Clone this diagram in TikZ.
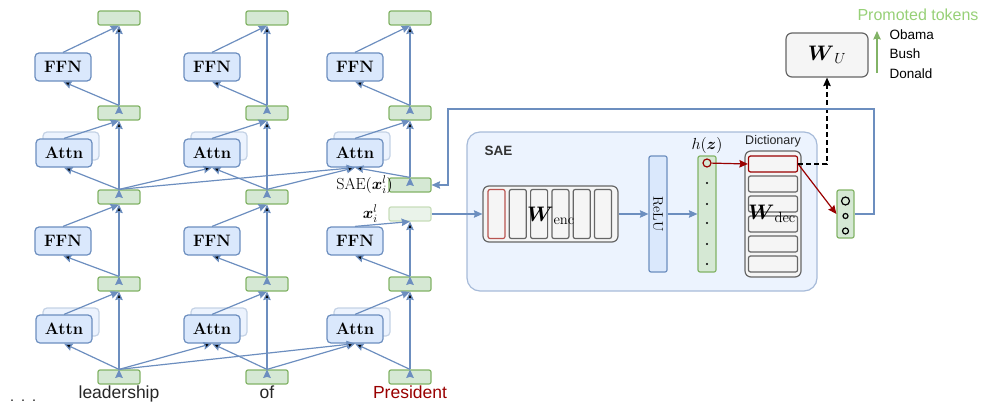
\documentclass[tikz,border=0pt]{standalone}
\usepackage{fix-cm}
\usepackage{amsmath}
\usepackage{fontspec}
\usepackage{xcolor}
\usepackage{tikz}
\usetikzlibrary{arrows.meta, positioning, calc}
\newfontfamily\helv{Liberation Sans}

\definecolor{blufill}{HTML}{DAE8FC}
\definecolor{bluline}{HTML}{6C8EBF}
\definecolor{grnfill}{HTML}{D5E8D4}
\definecolor{grnline}{HTML}{82B366}
\definecolor{gryfill}{HTML}{F5F5F5}
\definecolor{gryline}{HTML}{666666}
\definecolor{redline}{HTML}{B85450}
\definecolor{darkred}{HTML}{990000}
\definecolor{promo}{HTML}{97D077}

\begin{document}
\begin{tikzpicture}[x=1pt, y=-1pt, line width=1.2pt, >={Stealth[length=8.5pt, width=7.5pt, inset=1pt]}]
    \tikzstyle{vec} = [rectangle, draw=grnline, fill=grnfill, minimum width=42pt, minimum height=14pt, inner sep=0pt, rounded corners=2pt]
    \tikzstyle{block} = [rectangle, draw=bluline, fill=blufill, minimum width=56pt, minimum height=28pt, inner sep=0pt, rounded corners=4pt, font=\fontsize{16.5}{19}\selectfont\bfseries]
    \tikzstyle{ghost} = [block, draw=bluline!40, fill=blufill!50]
    \tikzstyle{flow} = [->, draw=bluline]
    \tikzstyle{cell} = [rectangle, draw=gryline, fill=gryfill, inner sep=0pt, rounded corners=2pt]
    \tikzstyle{lbl} = [inner sep=0pt]
    \tikzstyle{sanslbl} = [inner sep=0pt, font=\helv\fontsize{13.5}{16}\selectfont]

    \useasboundingbox (0,0) rectangle (981,404);

    % column 1
    \node[vec] (tok1) at (119,377) {};
    \node[ghost] (attnA1s) at (71,322) {};
    \node[block] (attnA1) at (64,329) {Attn};
    \node[vec] (midA1) at (119,284) {};
    \node[block] (ffnA1) at (63,241) {FFN};
    \node[vec] (res1) at (119,197) {};
    \node[ghost] (attnB1s) at (71,146) {};
    \node[block] (attnB1) at (64,153) {Attn};
    \node[vec] (midB1) at (119,113) {};
    \node[block] (ffnB1) at (63,67) {FFN};
    \node[vec] (top1) at (119,18) {};

    % column 2
    \node[vec] (tok2) at (267,377) {};
    \node[ghost] (attnA2s) at (219,322) {};
    \node[block] (attnA2) at (212,329) {Attn};
    \node[vec] (midA2) at (267,284) {};
    \node[block] (ffnA2) at (212,241) {FFN};
    \node[vec] (res2) at (267,197) {};
    \node[ghost] (attnB2s) at (219,146) {};
    \node[block] (attnB2) at (212,153) {Attn};
    \node[vec] (midB2) at (267,113) {};
    \node[block] (ffnB2) at (212,67) {FFN};
    \node[vec] (top2) at (267,18) {};

    % column 3
    \node[vec] (tok3) at (410,377) {};
    \node[ghost] (attnA3s) at (362,322) {};
    \node[block] (attnA3) at (355,329) {Attn};
    \node[vec] (midA3) at (410,284) {};
    \node[block] (ffnA3) at (355,241) {FFN};
    \node[vec, draw=grnline!45, fill=grnfill!50] (xl3) at (410,214) {};
    \node[vec] (sae3) at (410,185) {};
    \node[ghost] (attnB3s) at (362,146) {};
    \node[block] (attnB3) at (355,153) {Attn};
    \node[vec] (midB3) at (410,113) {};
    \node[block] (ffnB3) at (355,67) {FFN};
    \node[vec] (top3) at (410,18) {};

    \node[lbl, left=10pt of xl3, font=\fontsize{16}{19}\selectfont] (xllbl) {$\boldsymbol{x}_i^l$};
    \node[lbl, left=-5pt of sae3, font=\fontsize{16}{19}\selectfont] (saelbl) {$\mathrm{SAE}(\boldsymbol{x}_i^l)$};

    % tokens
    \node[lbl, anchor=base west, font=\fontsize{20}{22}\selectfont] (dots) at (9,401) {.\ .\ .};
    \node[lbl, anchor=base, font=\helv\fontsize{17.5}{20}\selectfont, text=black!85] (w1) at (119,398) {leadership};
    \node[lbl, anchor=base, font=\helv\fontsize{17.5}{20}\selectfont, text=black!85] (w2) at (267,398) {of};
    \node[lbl, anchor=base, font=\helv\fontsize{17.5}{20}\selectfont, text=darkred] (w3) at (410,398) {President};

    % residual stream
    \draw[flow] (tok1.north) edge (attnA1.south) edge (midA1.south) edge (attnA2.south) edge (attnA3.south);
    \draw[flow] (tok2.north) edge (attnA2.south) edge (midA2.south) edge (attnA3.south);
    \draw[flow] (tok3.north) edge (attnA3.south) edge (midA3.south);
    \draw[flow] (attnA1.north) -- (midA1.south);
    \draw[flow] (attnA2.north) -- (midA2.south);
    \draw[flow] (attnA3.north) -- (midA3.south);
    \draw[flow] (midA1.north) edge (ffnA1.south) edge (res1.south);
    \draw[flow] (midA2.north) edge (ffnA2.south) edge (res2.south);
    \draw[flow] (midA3.north) edge (ffnA3.south) edge (xl3.south);
    \draw[flow] (ffnA1.north) -- (res1.south);
    \draw[flow] (ffnA2.north) -- (res2.south);
    \draw[flow] (ffnA3.north) -- (xl3.south);
    \draw[flow] (res1.north) edge (attnB1.south) edge (midB1.south) edge (attnB2.south) edge (attnB3.south);
    \draw[flow] (res2.north) edge (attnB2.south) edge (midB2.south) edge (attnB3.south);
    \draw[flow] (sae3.north) edge (attnB3.south) edge (midB3.south);
    \draw[flow] (attnB1.north) -- (midB1.south);
    \draw[flow] (attnB2.north) -- (midB2.south);
    \draw[flow] (attnB3.north) -- (midB3.south);
    \draw[flow] (midB1.north) edge (ffnB1.south) edge (top1.south);
    \draw[flow] (midB2.north) edge (ffnB2.south) edge (top2.south);
    \draw[flow] (midB3.north) edge (ffnB3.south) edge (top3.south);
    \draw[flow] (ffnB1.north) -- (top1.south);
    \draw[flow] (ffnB2.north) -- (top2.south);
    \draw[flow] (ffnB3.north) -- (top3.south);

    % SAE
    \node[rectangle, draw=bluline!60, fill=blufill!50, minimum width=350pt, minimum height=159pt, rounded corners=13pt] (saeframe) at (642,211.5) {};
    \node[sanslbl, anchor=west, font=\helv\bfseries\fontsize{13.5}{16}\selectfont, text=black!80] (saetitle) at (484,151) {SAE};

    \node[rectangle, draw=gryline, fill=gryfill, minimum width=135pt, minimum height=56pt, rounded corners=6pt] (wenc) at (550.5,214) {};
    \node[cell, draw=redline, minimum width=17pt, minimum height=49pt] (e1) at (496.5,214) {};
    \node[cell, minimum width=17pt, minimum height=49pt] (e2) at (517.8,214) {};
    \node[cell, minimum width=17pt, minimum height=49pt] (e3) at (539.1,214) {};
    \node[cell, minimum width=17pt, minimum height=49pt] (e4) at (560.4,214) {};
    \node[cell, minimum width=17pt, minimum height=49pt] (e5) at (581.7,214) {};
    \node[cell, minimum width=17pt, minimum height=49pt] (e6) at (603,214) {};
    \node[lbl, font=\fontsize{21}{24}\selectfont] (wenclbl) at (551,216) {$\boldsymbol{W}_{\mathrm{enc}}$};

    \node[rectangle, draw=bluline, fill=blufill, minimum width=18pt, minimum height=116pt, rounded corners=2pt] (relu) at (658,214) {};
    \node[lbl, rotate=-90, font=\fontsize{14}{16}\selectfont] (relulbl) at (658,214) {ReLU};

    \node[rectangle, draw=grnline, fill=grnfill, minimum width=18pt, minimum height=116pt, rounded corners=2pt] (hz) at (707,214) {};
    \node[circle, draw=darkred, minimum size=8pt, inner sep=0pt] (hcirc) at (707,163) {};
    \foreach \y in {183,204,223,244,264}
        \fill (707,\y) circle (1.1pt);
    \node[lbl, font=\fontsize{16}{19}\selectfont] (hzlbl) at (707,145) {$h(\boldsymbol{z})$};

    \node[rectangle, draw=gryline, fill=gryfill, minimum width=56pt, minimum height=126pt, rounded corners=6pt] (dict) at (773,214) {};
    \node[cell, draw=darkred, minimum width=49pt, minimum height=16pt] (d1) at (773,164) {};
    \node[cell, minimum width=49pt, minimum height=16pt] (d2) at (773,184) {};
    \node[cell, minimum width=49pt, minimum height=16pt] (d3) at (773,204) {};
    \node[cell, minimum width=49pt, minimum height=16pt] (d4) at (773,224) {};
    \node[cell, minimum width=49pt, minimum height=16pt] (d5) at (773,244) {};
    \node[cell, minimum width=49pt, minimum height=16pt] (d6) at (773,264) {};
    \node[lbl, font=\fontsize{21}{24}\selectfont] (wdeclbl) at (772,214) {$\boldsymbol{W}_{\mathrm{dec}}$};
    \node[sanslbl, font=\helv\fontsize{12.5}{15}\selectfont, text=black!85] (dictlbl) at (773,141) {Dictionary};

    \node[vec, minimum width=17pt, minimum height=48pt] (outv) at (845.5,214) {};
    \draw (845.5,201) circle (4pt);
    \draw (845.5,216) circle (2.5pt);
    \draw (845.5,231) circle (3pt);

    \node[rectangle, draw=gryline, fill=gryfill, minimum width=82pt, minimum height=44pt, rounded corners=6pt, font=\fontsize{21}{24}\selectfont] (wu) at (827,55) {$\boldsymbol{W}_U$};

    % promoted tokens
    \node[sanslbl, font=\helv\fontsize{16}{19}\selectfont, text=promo] (promo) at (918,15) {Promoted tokens};
    \coordinate (pbot) at (877,73);
    \coordinate (ptop) at (877,31);
    \draw[->, draw=grnline] (pbot) -- (ptop);
    \node[sanslbl, anchor=west] (obama) at (889,35) {Obama};
    \node[sanslbl, anchor=west] (bush) at (889,54) {Bush};
    \node[sanslbl, anchor=west] (donald) at (889,74) {Donald};

    % connectors
    \draw[flow] (xl3.east) -- (wenc.west);
    \draw[flow] (wenc.east) -- (relu.west);
    \draw[flow] (relu.east) -- (hz.west);
    \draw[->, draw=darkred] (hcirc) -- (d1.west);
    \draw[->, draw=darkred] (d1.east) -- (outv.west);
    \draw[->, dash pattern=on 5pt off 3pt] (d1.east) -| (wu.south);

    \coordinate (fbR) at (874,109);
    \coordinate (fbL) at (448,109);
    \draw[flow] (outv.east) -| (fbR) -- (fbL) |- (sae3.east);
\end{tikzpicture}
\end{document}
